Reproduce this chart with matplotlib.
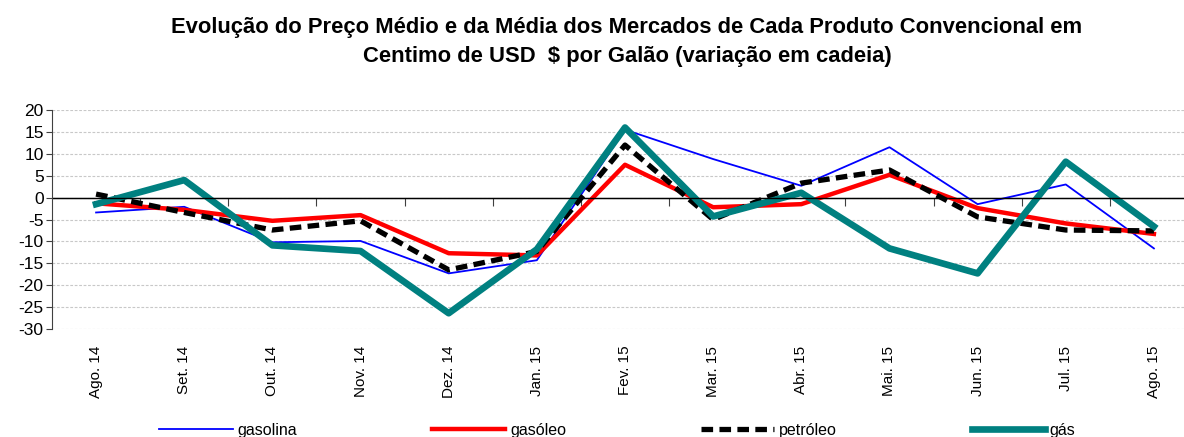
import matplotlib
matplotlib.use("Agg")
import matplotlib.pyplot as plt
import numpy as np

# data (cents USD per gallon, chained variation)
months = ['Ago. 14', 'Set. 14', 'Out. 14', 'Nov. 14', 'Dez. 14', 'Jan. 15', 'Fev. 15',
          'Mar. 15', 'Abr. 15', 'Mai. 15', 'Jun. 15', 'Jul. 15', 'Ago. 15']
gasolina = [-3.4, -2.1, -10.2, -9.9, -17.3, -14.3, 15.5, 8.8, 2.7, 11.5, -1.5, 3.0, -11.6]
gasoleo = [-1.3, -2.8, -5.3, -4.0, -12.7, -13.2, 7.5, -2.2, -1.5, 5.2, -2.4, -5.9, -8.3]
petroleo = [0.8, -3.4, -7.4, -5.3, -16.5, -12.3, 12.0, -5.0, 3.3, 6.3, -4.4, -7.4, -7.6]
gas = [-1.5, 4.0, -10.9, -12.2, -26.4, -11.8, 16.0, -4.3, 1.1, -11.6, -17.3, 8.2, -6.6]

plt.rcParams['font.family'] = ['Liberation Sans', 'DejaVu Sans']

fig = plt.figure(figsize=(11.84, 4.37), dpi=100)
ax = fig.add_axes([52 / 1184, 1 - 329 / 437, 1146 / 1184, 219 / 437])

x = np.arange(len(months))
ax.plot(x, gasolina, color='#0000FF', lw=1.3, label='gasolina')
ax.plot(x, gasoleo, color='#FF0000', lw=3.2, label='gasóleo')
ax.plot(x, petroleo, color='black', lw=3.8, ls=(0, (2.2, 1.2)), label='petróleo')
ax.plot(x, gas, color='#008080', lw=4.8, label='gás')

ax.set_xlim(-0.5, len(months) - 0.5)
ax.set_ylim(-30, 20)
ax.set_yticks(np.arange(-30, 21, 5))
ax.set_yticklabels([str(v) for v in range(-30, 21, 5)], fontsize=12.5)
ax.yaxis.grid(True, color='#c8c8c8', ls=(0, (2.5, 1.5)), lw=0.8)
ax.set_axisbelow(True)
ax.axhline(0, color='black', lw=1)

ax.set_xticks(x)
ax.set_xticklabels(months, rotation=90, fontsize=11)
ax.tick_params(axis='x', length=0, pad=12)
ax.tick_params(axis='y', length=4, color='#404040', pad=2)

for s in ['top', 'right', 'bottom']:
    ax.spines[s].set_visible(False)
ax.spines['left'].set_color('#404040')

# category boundary ticks hanging from the zero line
sec = ax.secondary_xaxis(0.6)
sec.set_xticks(np.arange(0.5, len(months) - 1, 1.0))
sec.tick_params(axis='x', direction='in', length=6, labelbottom=False, color='#404040')
sec.set_xticklabels([])
sec.spines['bottom'].set_visible(False)

fig.suptitle('Evolução do Preço Médio e da Média dos Mercados de Cada Produto Convencional em\n'
             'Centimo de USD  $ por Galão (variação em cadeia)',
             x=627 / 1184, y=0.96, fontsize=15.8, fontweight='bold', linespacing=1.5)

fig.legend(loc='lower left', bbox_to_anchor=(145 / 1184, -0.035, 945 / 1184, 0.05), mode='expand',
           ncol=4, frameon=False, handlelength=4.6, handletextpad=0.3,
           prop={'size': 11.5})

fig.savefig('out.png', dpi=100)
